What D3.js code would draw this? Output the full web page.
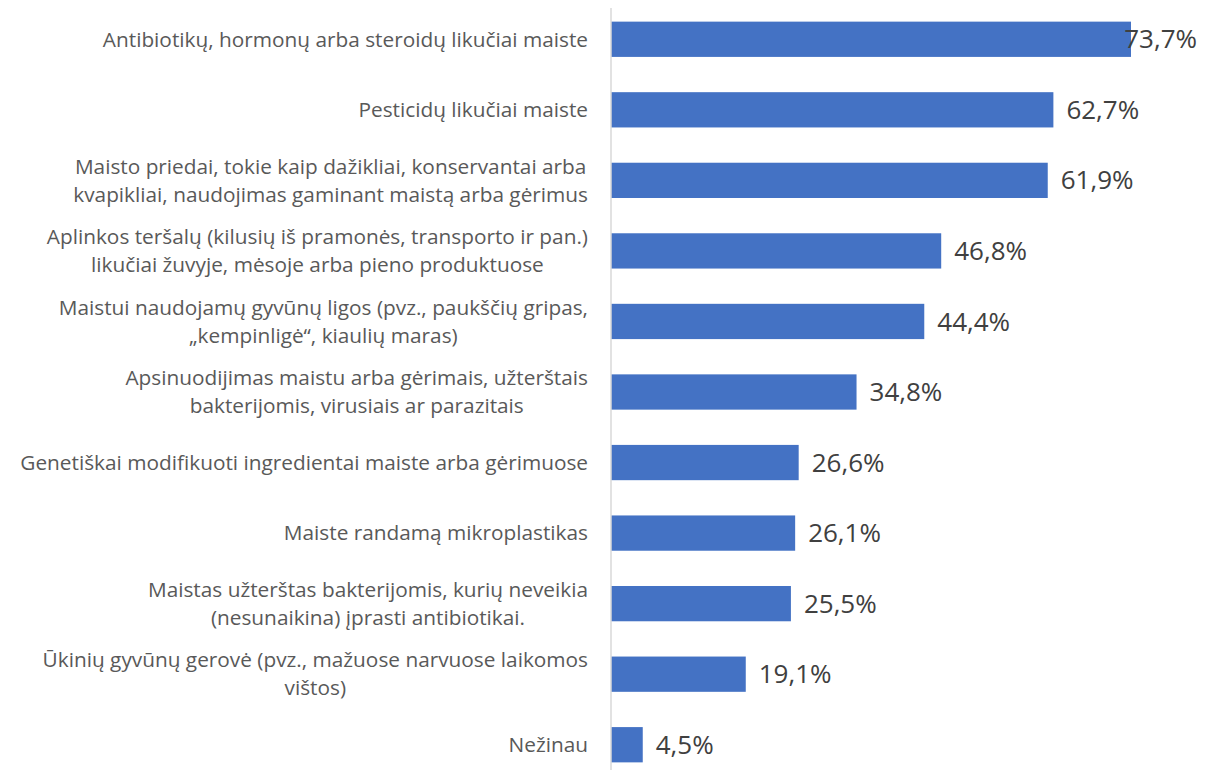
<!DOCTYPE html>
<html>
<head>
<meta charset="utf-8">
<script src="https://cdn.jsdelivr.net/npm/d3@7"></script>
<style>
  body { margin: 0; background: #fff; }
  svg { display: block; font-family: "Open Sans", "Noto Sans", sans-serif; }
</style>
</head>
<body>
<script>
// categories (line breaks as in the original chart)
var categories = [
  "Antibiotikų, hormonų arba steroidų likučiai maiste",
  "Pesticidų likučiai maiste",
  "Maisto priedai, tokie kaip dažikliai, konservantai arba\nkvapikliai, naudojimas gaminant maistą arba gėrimus",
  "Aplinkos teršalų (kilusių iš pramonės, transporto ir pan.)\nlikučiai žuvyje, mėsoje arba pieno produktuose",
  "Maistui naudojamų gyvūnų ligos (pvz., paukščių gripas,\n„kempinligė“, kiaulių maras)",
  "Apsinuodijimas maistu arba gėrimais, užterštais\nbakterijomis, virusiais ar parazitais",
  "Genetiškai modifikuoti ingredientai maiste arba gėrimuose",
  "Maiste randamą mikroplastikas",
  "Maistas užterštas bakterijomis, kurių neveikia\n(nesunaikina) įprasti antibiotikai.",
  "Ūkinių gyvūnų gerovė (pvz., mažuose narvuose laikomos\nvištos)",
  "Nežinau"
];
var values = [73.7, 62.7, 61.9, 46.8, 44.4, 34.8, 26.6, 26.1, 25.5, 19.1, 4.5];

var width = 1221, height = 774;
var margin = {top: 4, right: 24, bottom: 0, left: 611};

var svg = d3.select("body").append("svg")
    .attr("width", width)
    .attr("height", height);

// scales
var x = d3.scaleLinear().domain([0, 73.7]).range([margin.left, 1131]);
var y = d3.scaleBand().domain(categories)
    .range([margin.top, 780])
    .paddingInner(0.5).paddingOuter(0.25);

// bars
svg.selectAll("rect.bar")
    .data(values)
  .enter().append("rect")
    .attr("class", "bar")
    .attr("x", x(0))
    .attr("y", function(d, i) { return y(categories[i]); })
    .attr("width", function(d) { return x(d) - x(0); })
    .attr("height", y.bandwidth())
    .attr("fill", "#4472c4");

// vertical axis line
svg.append("line")
    .attr("x1", x(0)).attr("x2", x(0))
    .attr("y1", 8).attr("y2", 770)
    .attr("stroke", "#d9d9d9")
    .attr("stroke-width", 1.5);

// category labels, multi-line ones centred in their block
var labelRight = 588, lineH = 28;
categories.forEach(function(c) {
  var lines = c.split("\n");
  var g = svg.append("g");
  var cy = y(c) + y.bandwidth() / 2;
  var texts = lines.map(function(l, k) {
    return g.append("text")
      .attr("y", cy + (k - (lines.length - 1) / 2) * lineH)
      .attr("dy", "0.35em")
      .attr("fill", "#595959")
      .style("font-size", "20.8px")
      .text(l);
  });
  var maxW = d3.max(texts, function(t) { return t.node().getComputedTextLength(); });
  texts.forEach(function(t) {
    t.attr("x", labelRight - maxW / 2).attr("text-anchor", "middle");
  });
});

// value labels
svg.selectAll("text.val")
    .data(values)
  .enter().append("text")
    .attr("class", "val")
    .attr("y", function(d, i) { return y(categories[i]) + y.bandwidth() / 2; })
    .attr("dy", "0.35em")
    .attr("fill", "#404040")
    .style("font-size", "26px")
    .text(function(d) { return d.toFixed(1).replace(".", ",") + "%"; })
    .attr("x", function(d) {
      var w = this.getComputedTextLength();
      return Math.min(x(d) + 13, 1197 - w);
    });
</script>
</body>
</html>
